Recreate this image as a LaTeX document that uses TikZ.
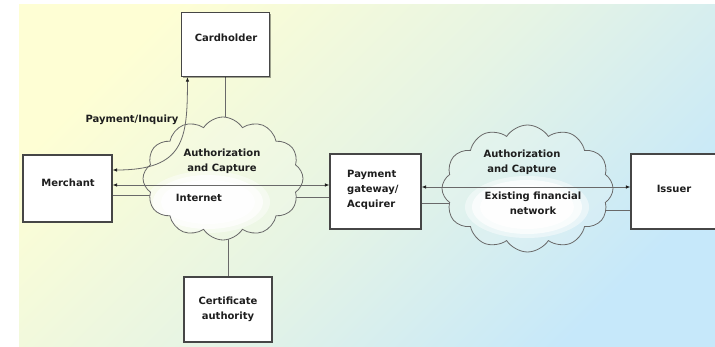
\documentclass[tikz,border=0pt]{standalone}
\usepackage{fontspec}
\setmainfont{DejaVu Sans}
\usetikzlibrary{shapes.symbols,arrows.meta,shadows,calc}
\pgfdeclarelayer{bgl}
\pgfdeclarelayer{wl}
\pgfsetlayers{bgl,wl,main}
\definecolor{bgyel}{RGB}{254,254,212}
\definecolor{bgmid}{RGB}{230,244,228}
\definecolor{bgblu}{RGB}{198,232,250}
\definecolor{edge}{RGB}{70,70,70}
\definecolor{wire}{RGB}{105,105,105}
\definecolor{ink}{RGB}{30,30,30}
\tikzset{
  bgshade/.style={top color=bgyel, bottom color=bgblu, middle color=bgmid, shading angle=45},
  box/.style={draw=edge, line width=1.1pt, fill=white, inner sep=0pt,
    drop shadow={shadow xshift=1.2pt, shadow yshift=-1.2pt, opacity=0.35, fill=black}},
  cloudy/.style={cloud, cloud puffs=12, cloud puff arc=115, cloud ignores aspect,
    draw=wire, line width=0.8pt, inner sep=0pt,
    path picture={
      \shade[bgshade] (bgnw) rectangle (bgse);
      \fill[white, opacity=.15] (bgnw) rectangle (bgse);
      \fill[white, opacity=.45] (#1) ellipse [x radius=62pt, y radius=31pt];
      \fill[white, opacity=.7] (#1) ellipse [x radius=55pt, y radius=27pt];
      \fill[white, opacity=.9] (#1) ellipse [x radius=47pt, y radius=22pt];
    }},
  wireline/.style={draw=wire, line width=0.8pt},
  dbl/.style={wireline, {Latex[length=4.5pt,width=3.5pt,color=ink]}-{Latex[length=4.5pt,width=3.5pt,color=ink]}},
  txt/.style={font=\fontsize{10}{15}\selectfont\bfseries, text=ink, align=center, inner sep=0pt}
}
\begin{document}
\begin{tikzpicture}[x=1pt,y=-1pt]
\useasboundingbox (0,0) rectangle (715,347);
\coordinate (bgnw) at (19,5);
\coordinate (bgse) at (715,347);
\coordinate (h1) at (208,202);
\coordinate (h2) at (527,207);
\begin{pgfonlayer}{bgl}
  \shade[bgshade] (bgnw) rectangle (bgse);
\end{pgfonlayer}

% clouds
\node[cloudy=h1, minimum width=160pt, minimum height=123pt] (c1) at (223,178.5) {};
\node[cloudy=h2, minimum width=171pt, minimum height=127pt] (c2) at (527.5,188.5) {};

% boxes
\node[box, minimum width=88pt, minimum height=64pt] (ch) at (225.5,44.5) {};
\node[box, minimum width=89pt, minimum height=67pt] (m) at (67.5,188.5) {};
\node[box, minimum width=88pt, minimum height=65pt] (ca) at (228,309.5) {};
\node[box, minimum width=91pt, minimum height=75pt] (p) at (375.5,191.5) {};
\node[box, minimum width=87pt, minimum height=75pt] (is) at (674.5,191.5) {};

% plain wires (behind clouds)
\begin{pgfonlayer}{wl}
  \draw[wireline] (ch.south) -- (ch.south |- c1.center);
  \draw[wireline] (ca.north) -- (ca.north |- c1.center);
  \draw[wireline] ([yshift=-6.5pt]m.east) -- ([yshift=-6.5pt]m.east -| c1.center);
  \draw[wireline] ([yshift=-5.5pt]p.west) -- ([yshift=-5.5pt]p.west -| c1.center);
  \draw[wireline] ([yshift=-11.5pt]p.east) -- ([yshift=-11.5pt]p.east -| c2.center);
  \draw[wireline] ([yshift=-18.5pt]is.west) -- ([yshift=-18.5pt]is.west -| c2.center);
\end{pgfonlayer}

% arrows over clouds
\draw[dbl] ([yshift=3.5pt]m.east) -- ([yshift=3.5pt]m.east -| p.west);
\draw[dbl] ([yshift=4.5pt]p.east) -- ([yshift=4.5pt]p.east -| is.west);
\draw[dbl] ([yshift=18.5pt]m.east) .. controls +(72,0) and +(0,62) .. ([xshift=6.5pt]ch.south west);

% texts
\node[txt] (tch) at (226,38) {Cardholder};
\node[txt] (tm) at (68,183) {Merchant};
\node[txt] (tca) at (228,309.5) {Certificate\\authority};
\node[txt, anchor=west, align=left] (tp) at (347,190) {Payment\\gateway/\\Acquirer};
\node[txt] (tis) at (674,189) {Issuer};
\node[txt] (tpi) at (132,120) {Payment/Inquiry};
\node[txt] (ta1) at (222,161) {Authorization\\and Capture};
\node[txt] (tin) at (199,198) {Internet};
\node[txt] (ta2) at (522,162) {Authorization\\and Capture};
\node[txt] (tef) at (533,203) {Existing financial\\network};
\end{tikzpicture}
\end{document}
